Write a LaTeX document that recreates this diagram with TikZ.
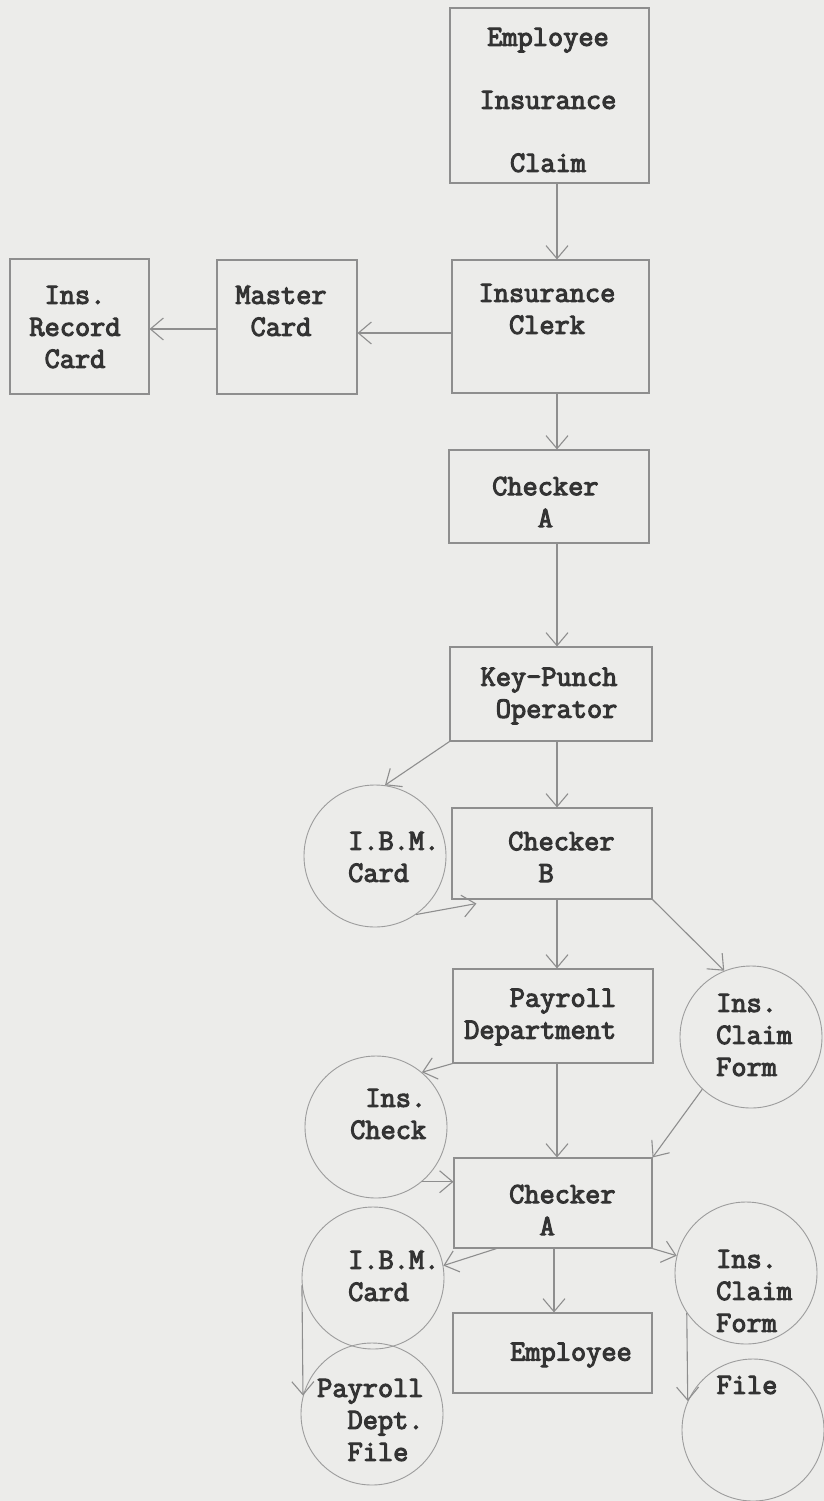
\documentclass[tikz,border=0pt]{standalone}
\usepackage{fontspec}
\newfontfamily\tw{Latin Modern Mono}[FakeBold=3.6]
\usetikzlibrary{arrows.meta,calc}
\definecolor{paper}{HTML}{ECECEA}
\definecolor{ink}{HTML}{333333}
\definecolor{rulec}{HTML}{8E8E8E}
\definecolor{circc}{HTML}{9C9C9C}
\tikzset{
  boxn/.style={draw=rulec, line width=1.1pt, rectangle, inner sep=0pt},
  circn/.style={draw=circc, line width=0.9pt, circle, inner sep=0pt, minimum size=142pt},
  txt/.style={text=ink, font=\tw\fontsize{29.5}{32}\selectfont, inner sep=0pt},
  flow/.style={draw=rulec, line width=1.1pt, -{Straight Barb[length=13pt,width=22pt,line width=1.1pt]}},
}
\begin{document}
\begin{tikzpicture}[x=1pt,y=-1pt]
\fill[paper] (0,0) rectangle (824,1501);
\useasboundingbox (0,0) rectangle (824,1501);

% boxes
\node[boxn, minimum width=199pt, minimum height=175pt] (eic) at (549.5,95.5) {};
\node[boxn, minimum width=197pt, minimum height=133pt] (clerk) at (550.5,326.5) {};
\node[boxn, minimum width=140pt, minimum height=134pt] (master) at (287,327) {};
\node[boxn, minimum width=139pt, minimum height=135pt] (record) at (79.5,326.5) {};
\node[boxn, minimum width=200pt, minimum height=93pt] (chkA) at (549,496.5) {};
\node[boxn, minimum width=202pt, minimum height=94pt] (kp) at (551,694) {};
\node[boxn, minimum width=200pt, minimum height=91pt] (chkB) at (552,853.5) {};
\node[boxn, minimum width=200pt, minimum height=94pt] (pay) at (553,1016) {};
\node[boxn, minimum width=198pt, minimum height=90pt] (chkAb) at (553,1203) {};
\node[boxn, minimum width=199pt, minimum height=80pt] (emp) at (552.5,1353) {};

% circles
\node[circn] (ibmA) at (375,856) {};
\node[circn] (icfA) at (751,1037) {};
\node[circn] (chk) at (376,1127) {};
\node[circn] (ibmB) at (373,1278) {};
\node[circn] (icfB) at (746,1273) {};
\node[circn] (pdf) at (372,1414) {};
\node[circn] (file) at (753,1430) {};

% texts
\node[txt, align=center, font=\tw\fontsize{29.5}{63}\selectfont] (t-eic) at (548,100) {Employee\\Insurance\\Claim};
\node[txt, align=center] (t-clerk) at (547,309) {Insurance\\Clerk};
\node[txt, align=center] (t-master) at (281,311) {Master\\Card};
\node[txt, align=center] (t-record) at (75,327) {Ins.\\Record\\Card};
\node[txt, align=left, anchor=west] (t-chkA) at (492,502) {Checker\\~~~A};
\node[txt, align=left] (t-kp) at (549,696) {Key-Punch\\~Operator};
\node[txt, align=left, anchor=west] (t-ibmA) at (348,857) {I.B.M.\\Card};
\node[txt, align=left, anchor=west] (t-chkB) at (508,857) {Checker\\~~B};
\node[txt, align=left, anchor=west] (t-pay) at (464,1017) {~~~Payroll\\Department};
\node[txt, align=left, anchor=west] (t-icfA) at (716,1035) {Ins.\\Claim\\Form};
\node[txt, align=left, anchor=west] (t-chk) at (350,1114) {~Ins.\\Check};
\node[txt, align=left, anchor=west] (t-chkAb) at (509,1210) {Checker\\~~A};
\node[txt, align=left, anchor=west] (t-ibmB) at (348,1276) {I.B.M.\\Card};
\node[txt, align=left, anchor=west] (t-icfB) at (716,1291) {Ins.\\Claim\\Form};
\node[txt] (t-emp) at (571,1355) {Employee};
\node[txt, align=left, anchor=west] (t-pdf) at (317,1420) {Payroll\\~~Dept.\\~~File};
\node[txt] (t-file) at (747,1385) {File};

% connectors
\draw[flow] ([xshift=7.5pt]eic.south) -- ([xshift=6.5pt]clerk.north);
\draw[flow] ([yshift=-6.5pt]clerk.west) -- ([yshift=-6pt]master.east);
\draw[flow] ([yshift=-2pt]master.west) -- ([yshift=-2.5pt]record.east);
\draw[flow] ([xshift=6.5pt]clerk.south) -- ([xshift=8pt]chkA.north);
\draw[flow] ([xshift=8pt]chkA.south) -- ([xshift=6pt]kp.north);
\draw[flow] ([xshift=6pt]kp.south) -- ([xshift=5pt]chkB.north);
\draw[flow] (kp.south west) -- (ibmA.82);
\draw[flow] (ibmA.-55) -- ([xshift=25pt,yshift=-4pt]chkB.south west);
\draw[flow] ([xshift=5pt]chkB.south) -- ([xshift=4pt]pay.north);
\draw[flow] (chkB.south east) -- (icfA.112);
\draw[flow] (pay.south west) -- (chk.50);
\draw[flow] (chk.-50) -- (chk.-50 -| chkAb.west);
\draw[flow] ([xshift=4pt]pay.south) -- ([xshift=4pt]chkAb.north);
\draw[flow] (icfA.227) -- (chkAb.north east);
\draw[flow] ([xshift=43pt]chkAb.south west) -- (ibmB.10);
\draw[flow] ([xshift=1pt]chkAb.south) -- ([xshift=1.5pt]emp.north);
\draw[flow] (chkAb.south east) -- (icfB.166);
\draw[flow] (icfB.214) -- (file.156);
\draw[flow] (ibmB.186) -- (pdf.165);
\end{tikzpicture}
\end{document}
